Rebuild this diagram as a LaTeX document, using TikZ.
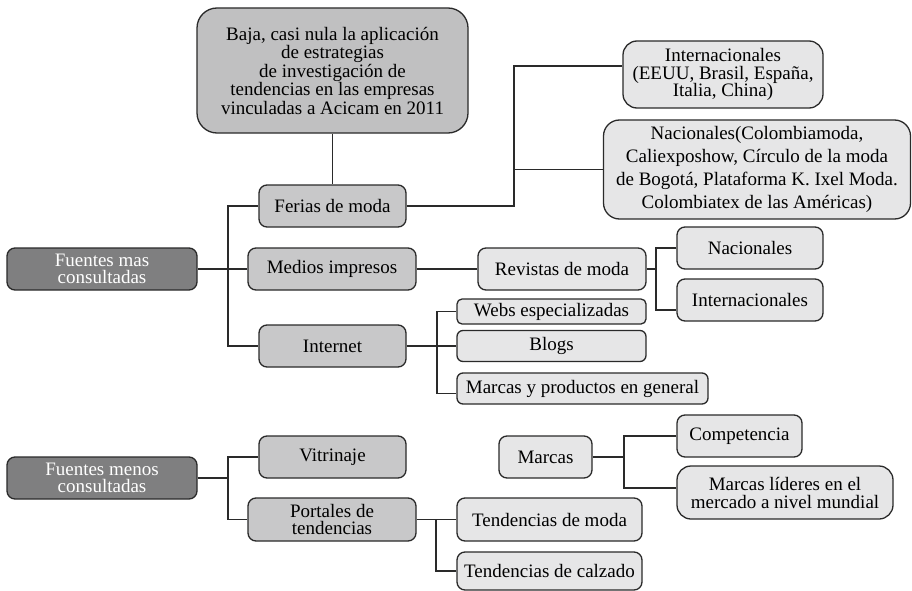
\documentclass[tikz,border=0pt]{standalone}
\usepackage{fontspec}
\setmainfont{Liberation Serif}
\usetikzlibrary{calc}
\definecolor{darkfill}{HTML}{7F7F80}
\definecolor{midfill}{HTML}{C8C8C9}
\definecolor{topfill}{HTML}{C0C0C1}
\definecolor{lightfill}{HTML}{E6E6E7}
\definecolor{edge}{HTML}{2A2A2A}
\tikzset{
  base/.style={draw=edge, line width=1.3pt, rounded corners=8pt, align=center,
    inner sep=1pt, font=\fontsize{19}{17.5}\selectfont},
  darkbox/.style={base, fill=darkfill, text=white},
  midbox/.style={base, fill=midfill},
  lightbox/.style={base, fill=lightfill},
  conn/.style={draw=edge, line width=1.3pt},
}
\begin{document}
\begin{tikzpicture}[x=1pt,y=-1pt]
\useasboundingbox (0,0) rectangle (912,591);
% nodes
\node[midbox, fill=topfill, rounded corners=20pt, minimum width=271pt, minimum height=125pt,
  font=\fontsize{19}{18.5}\selectfont] (top) at (332.5,70.5)
  {Baja, casi nula la aplicación\\de estrategias\\de investigación de\\tendencias en las empresas\\vinculadas a Acicam en 2011};
\node[darkbox, minimum width=190pt, minimum height=42pt] (fmas) at (102,269) {Fuentes mas\\consultadas};
\node[midbox, minimum width=147pt, minimum height=42pt] (ferias) at (332.5,206) {Ferias de moda};
\node[midbox, minimum width=168pt, minimum height=42pt] (medios) at (332,269) {Medios impresos};
\node[midbox, minimum width=147pt, minimum height=42pt] (internet) at (332.5,346) {Internet};
\node[lightbox, rounded corners=14pt, minimum width=200pt, minimum height=67pt,
  font=\fontsize{19}{17.5}\selectfont] (intl) at (723,74.5)
  {Internacionales\\(EEUU, Brasil, España,\\Italia, China)};
\node[lightbox, rounded corners=16pt, minimum width=307pt, minimum height=99pt,
  font=\fontsize{19}{23}\selectfont] (nac) at (757,169.5)
  {Nacionales(Colombiamoda,\\Caliexposhow, Círculo de la moda\\de Bogotá, Plataforma K. Ixel Moda.\\Colombiatex de las Américas)};
\node[lightbox, minimum width=168pt, minimum height=42pt] (revistas) at (562,269) {Revistas de moda};
\node[lightbox, minimum width=146pt, minimum height=42pt] (nac2) at (750,248) {Nacionales};
\node[lightbox, minimum width=146pt, minimum height=42pt] (int2) at (750,300) {Internacionales};
\node[lightbox, rounded corners=5pt, minimum width=189pt, minimum height=25pt] (webs) at (551.5,311.5) {Webs especializadas};
\node[lightbox, rounded corners=6pt, minimum width=189pt, minimum height=31pt] (blogs) at (551.5,346) {Blogs};
\node[lightbox, rounded corners=6pt, minimum width=251pt, minimum height=31pt] (mprod) at (582.5,388.5) {Marcas y productos en general};
\node[darkbox, minimum width=190pt, minimum height=42pt] (fmenos) at (102,478) {Fuentes menos\\consultadas};
\node[midbox, minimum width=147pt, minimum height=42pt] (vitr) at (332.5,457) {Vitrinaje};
\node[midbox, minimum width=168pt, minimum height=43pt] (portales) at (332,519.5) {Portales de\\tendencias};
\node[lightbox, minimum width=185pt, minimum height=43pt] (tmoda) at (549.5,519.5) {Tendencias de moda};
\node[lightbox, minimum width=185pt, minimum height=38pt] (tcalz) at (549.5,571) {Tendencias de calzado};
\node[lightbox, minimum width=93pt, minimum height=42pt] (marcas) at (545.5,457) {Marcas};
\node[lightbox, minimum width=125pt, minimum height=42pt] (comp) at (739.5,436) {Competencia};
\node[lightbox, rounded corners=14pt, minimum width=216pt, minimum height=53pt,
  font=\fontsize{19}{18}\selectfont] (lideres) at (785,492.5) {Marcas líderes en el\\mercado a nivel mundial};
% bus coordinates
\coordinate (b1) at (228,0);
\coordinate (j1) at (514,0);
\coordinate (j2) at (656,0);
\coordinate (j3) at (437,0);
\coordinate (j4) at (436,0);
\coordinate (j5) at (624,0);
\coordinate (intin) at ($(intl.west)+(0,-8.5)$);
\coordinate (i2in) at ($(int2.west)+(0,10)$);
\coordinate (mpin) at ($(mprod.west)+(0,5)$);
\coordinate (liin) at ($(lideres.west)+(0,-4.5)$);
% connectors
\draw[conn] (top.south) -- (ferias.north);
\draw[conn] (ferias.west) -- (ferias.west -| b1) |- (internet.west);
\draw[conn] (fmas.east) -- (medios.west);
\draw[conn] (ferias.east) -- (ferias.east -| j1) |- (intin);
\draw[conn] (j1 |- nac.west) -- (nac.west);
\draw[conn] (medios.east) -- (revistas.west);
\draw[conn] (revistas.east) -- (revistas.east -| j2);
\draw[conn] (nac2.west) -| (j2 |- i2in) -- (i2in);
\draw[conn] (internet.east) -- (blogs.west);
\draw[conn] (webs.west) -| (j3 |- mpin) -- (mpin);
\draw[conn] (fmenos.east) -- (fmenos.east -| b1);
\draw[conn] (vitr.west) -| (b1 |- portales.west) -- (portales.west);
\draw[conn] (portales.east) -- (tmoda.west);
\draw[conn] (j4 |- tmoda.west) |- (tcalz.west);
\draw[conn] (marcas.east) -- (marcas.east -| j5);
\draw[conn] (comp.west) -| (j5 |- liin) -- (liin);
\end{tikzpicture}
\end{document}
